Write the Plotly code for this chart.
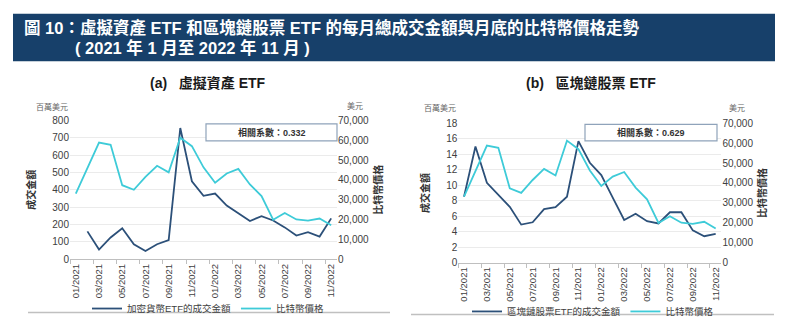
import plotly.graph_objects as go

months = ["01/2021", "02/2021", "03/2021", "04/2021", "05/2021", "06/2021",
          "07/2021", "08/2021", "09/2021", "10/2021", "11/2021", "12/2021",
          "01/2022", "02/2022", "03/2022", "04/2022", "05/2022", "06/2022",
          "07/2022", "08/2022", "09/2022", "10/2022", "11/2022"]

# 比特幣月底價格 (美元)
btc_price = [33100, 45600, 58800, 57700, 37300, 35000, 41500, 47100, 43800,
             61300, 57000, 46300, 38500, 43200, 45500, 37700, 31800, 19900,
             23300, 20000, 19400, 20500, 17100]

# 加密貨幣ETF的成交金額 (百萬美元)
crypto_etf_vol = [None, 160, 55, 125, 178, 86, 47, 86, 110, 756, 449, 365,
                  378, 309, 262, 220, 248, 223, 183, 136, 155, 130, 235]

# 區塊鏈股票ETF的成交金額 (百萬美元)
chain_etf_vol = [8.5, 15.0, 10.3, 8.7, 7.2, 4.9, 5.2, 6.9, 7.15, 8.5, 15.7,
                 12.9, 11.3, 8.4, 5.5, 6.3, 5.35, 5.05, 6.5, 6.5, 4.15, 3.4, 3.7]

corr_a = "0.332"
corr_b = "0.629"

FONT = "Liberation Sans, Arial, Noto Sans CJK TC, sans-serif"
NAVY = "#2c5079"
CYAN = "#3ecbd8"
W, H = 788, 332


def px(x):
    return x / W


def py(y):
    return 1 - y / H


fig = go.Figure()

fig.add_trace(go.Scatter(x=months, y=crypto_etf_vol, name="加密貨幣ETF的成交金額",
                         mode="lines", line=dict(color=NAVY, width=1.8),
                         xaxis="x", yaxis="y", legend="legend"))
fig.add_trace(go.Scatter(x=months, y=btc_price, name="比特幣價格",
                         mode="lines", line=dict(color=CYAN, width=1.8),
                         xaxis="x", yaxis="y2", legend="legend"))
fig.add_trace(go.Scatter(x=months, y=chain_etf_vol, name="區塊鏈股票ETF的成交金額",
                         mode="lines", line=dict(color=NAVY, width=1.8),
                         xaxis="x2", yaxis="y3", legend="legend2"))
fig.add_trace(go.Scatter(x=months, y=btc_price, name="比特幣價格",
                         mode="lines", line=dict(color=CYAN, width=1.8),
                         xaxis="x2", yaxis="y4", legend="legend2"))

tickfont = dict(family=FONT, size=10, color="#404040")
xcommon = dict(type="category", range=[-0.5, 22.5], dtick=2, tick0=0,
               tickangle=-90, tickson="boundaries", ticks="outside", ticklen=4,
               tickcolor="#bfbfbf", showline=True, linecolor="#bfbfbf",
               showgrid=False, tickfont=dict(family=FONT, size=9.5, color="#404040"),
               fixedrange=True)
ycommon = dict(showgrid=True, gridcolor="#ebebeb", gridwidth=1, zeroline=False,
               showline=False, ticks="", tickfont=tickfont, fixedrange=True)
ytitle_font = dict(family=FONT, size=10, color="#333333")

left_dom_x = [px(70), px(337)]
left_dom_y = [py(262), py(119)]
right_dom_x = [px(458.3), px(721.4)]
right_dom_y = [py(265.5), py(122)]

legend_common = dict(orientation="h", xanchor="center", yanchor="top",
                     font=dict(family=FONT, size=9.5, color="#404040"),
                     itemwidth=30, tracegroupgap=0, bgcolor="rgba(0,0,0,0)")

fig.update_layout(
    width=W, height=H,
    margin=dict(l=0, r=0, t=0, b=0),
    paper_bgcolor="white", plot_bgcolor="white",
    font=dict(family=FONT, color="#404040"),
    xaxis=dict(domain=left_dom_x, anchor="y", **xcommon),
    yaxis=dict(domain=left_dom_y, anchor="x", range=[0, 800], dtick=100,
               title=dict(text="<b>成交金額</b>", font=ytitle_font, standoff=14), **ycommon),
    yaxis2=dict(overlaying="y", side="right", anchor="x", range=[0, 70000],
                dtick=10000, tickformat=",d", showgrid=False, zeroline=False,
                tickfont=tickfont, fixedrange=True,
                title=dict(text="<b>比特幣價格</b>", font=ytitle_font, standoff=6)),
    xaxis2=dict(domain=right_dom_x, anchor="y3", **xcommon),
    yaxis3=dict(domain=right_dom_y, anchor="x2", range=[0, 18], dtick=2,
                title=dict(text="<b>成交金額</b>", font=ytitle_font, standoff=14), **ycommon),
    yaxis4=dict(overlaying="y3", side="right", anchor="x2", range=[0, 70000],
                dtick=10000, tickformat=",d", showgrid=False, zeroline=False,
                tickfont=tickfont, fixedrange=True,
                title=dict(text="<b>比特幣價格</b>", font=ytitle_font, standoff=6)),
    legend=dict(x=px(208), y=py(298), **legend_common),
    legend2=dict(x=px(593), y=py(301), **legend_common),
    showlegend=True,
)

shapes = [
    # title banner
    dict(type="rect", xref="paper", yref="paper", x0=px(13), x1=px(775),
         y0=py(58), y1=py(9), fillcolor="#17406a", line=dict(width=0), layer="below"),
    # correlation boxes
    dict(type="rect", xref="paper", yref="paper", x0=px(206), x1=px(337),
         y0=py(140), y1=py(122.5), fillcolor="white",
         line=dict(color="#8fa3ba", width=1.2)),
    dict(type="rect", xref="paper", yref="paper", x0=px(585), x1=px(717),
         y0=py(140), y1=py(123), fillcolor="white",
         line=dict(color="#8fa3ba", width=1.2)),
    # bottom separator lines
    dict(type="line", xref="paper", yref="paper", x0=px(28), x1=px(390),
         y0=py(317), y1=py(317), line=dict(color="#c0c0c0", width=1.5)),
    dict(type="line", xref="paper", yref="paper", x0=px(411), x1=px(774),
         y0=py(319), y1=py(319), line=dict(color="#c0c0c0", width=1.5)),
]
fig.update_layout(shapes=shapes)

annotations = [
    dict(text="<b>圖 10：虛擬資產 ETF 和區塊鏈股票 ETF 的每月總成交金額與月底的比特幣價格走勢</b>",
         x=px(22), y=py(23), xanchor="left", yanchor="middle",
         font=dict(family=FONT, size=16.5, color="white")),
    dict(text="<b>( 2021 年 1 月至 2022 年 11 月 )</b>",
         x=px(73), y=py(44), xanchor="left", yanchor="middle",
         font=dict(family=FONT, size=16.5, color="white")),
    dict(text="<b>(a)   虛擬資產 ETF</b>", x=px(208), y=py(80), xanchor="center",
         yanchor="middle", font=dict(family=FONT, size=14, color="#1a1a1a")),
    dict(text="<b>(b)   區塊鏈股票 ETF</b>", x=px(591), y=py(80), xanchor="center",
         yanchor="middle", font=dict(family=FONT, size=14, color="#1a1a1a")),
    dict(text="百萬美元", x=px(34), y=py(105), xanchor="left", yanchor="middle",
         font=dict(family=FONT, size=8, color="#666666")),
    dict(text="美元", x=px(345), y=py(104), xanchor="left", yanchor="middle",
         font=dict(family=FONT, size=8, color="#666666")),
    dict(text="百萬美元", x=px(422), y=py(106.5), xanchor="left", yanchor="middle",
         font=dict(family=FONT, size=8, color="#666666")),
    dict(text="美元", x=px(727), y=py(106.5), xanchor="left", yanchor="middle",
         font=dict(family=FONT, size=8, color="#666666")),
    dict(text=f"<b>相關系數：{corr_a}</b>", x=px(271.5), y=py(131.5), xanchor="center",
         yanchor="middle", font=dict(family=FONT, size=9, color="#333333")),
    dict(text=f"<b>相關系數：{corr_b}</b>", x=px(651), y=py(131.5), xanchor="center",
         yanchor="middle", font=dict(family=FONT, size=9, color="#333333")),
]
for a in annotations:
    a.update(xref="paper", yref="paper", showarrow=False)
fig.update_layout(annotations=annotations)

fig.write_html("out.html", config={"displayModeBar": False})
